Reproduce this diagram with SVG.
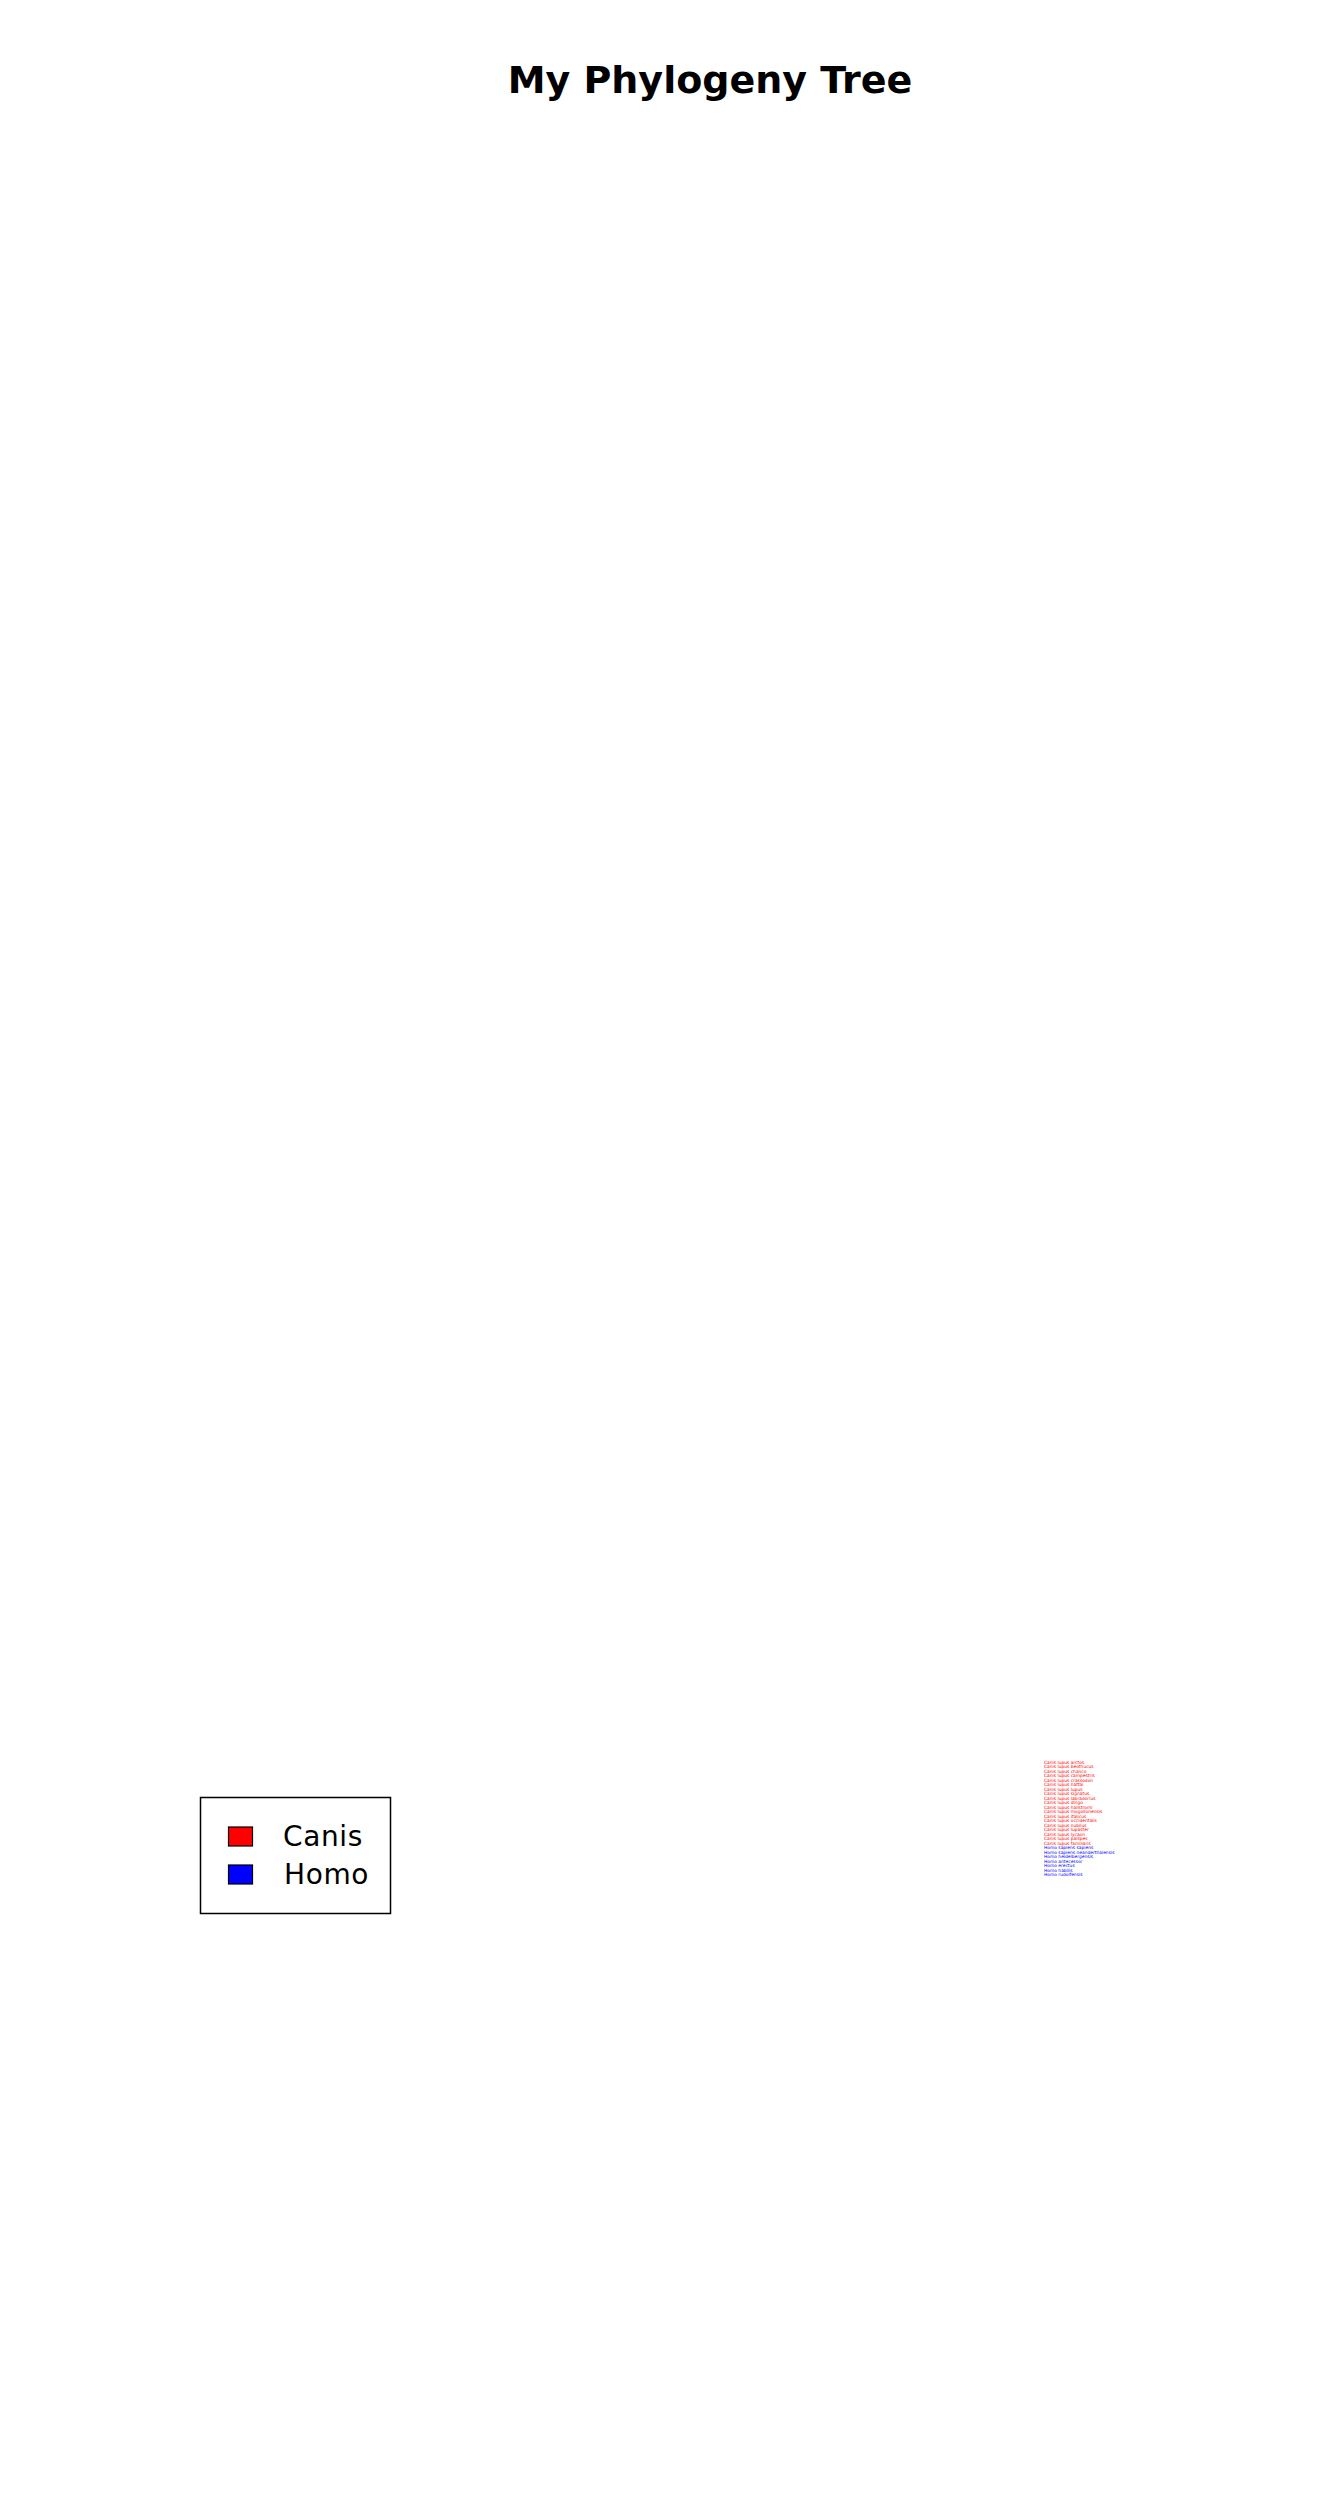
<svg xmlns="http://www.w3.org/2000/svg" width="1344" height="2496" viewBox="0 0 1344 2496">
<style>
.title{font-family:"DejaVu Sans","Liberation Sans",sans-serif;font-weight:bold;font-size:38px;fill:#000}
.leg{font-family:"DejaVu Sans","Liberation Sans",sans-serif;font-size:28px;letter-spacing:0.6px;fill:#000}
.leaf{font-family:"DejaVu Sans","Liberation Sans",sans-serif;font-size:4.4px}
.canis{fill:#ff0000}
.homo{fill:#0000ff}
.patch{stroke:#000;stroke-width:1.2}
</style>
<rect width="1344" height="2496" fill="#fff"/>
<text class="title" x="710" y="92.5" text-anchor="middle">My Phylogeny Tree</text>
<g id="connectors"/>
<g id="leaves">
<g id="canis-leaves" class="leaf canis">
<text x="1044" y="1763.5">Canis lupus arctos</text>
<text x="1044" y="1768">Canis lupus beothucus</text>
<text x="1044" y="1772.5">Canis lupus chanco</text>
<text x="1044" y="1777">Canis lupus campestris</text>
<text x="1044" y="1781.5">Canis lupus crassodon</text>
<text x="1044" y="1786">Canis lupus hattai</text>
<text x="1044" y="1790.5">Canis lupus lupus</text>
<text x="1044" y="1795">Canis lupus signatus</text>
<text x="1044" y="1799.5">Canis lupus labradorius</text>
<text x="1044" y="1804">Canis lupus dingo</text>
<text x="1044" y="1808.5">Canis lupus hallstromi</text>
<text x="1044" y="1813">Canis lupus mogollonensis</text>
<text x="1044" y="1817.5">Canis lupus italicus</text>
<text x="1044" y="1822">Canis lupus occidentalis</text>
<text x="1044" y="1826.5">Canis lupus nubilus</text>
<text x="1044" y="1831">Canis lupus lupaster</text>
<text x="1044" y="1835.5">Canis lupus lycaon</text>
<text x="1044" y="1840">Canis lupus pallipes</text>
<text x="1044" y="1844.5">Canis lupus familiaris</text>
</g>
<g id="homo-leaves" class="leaf homo">
<text x="1044" y="1849">Homo sapiens sapiens</text>
<text x="1044" y="1853.5">Homo sapiens neanderthalensis</text>
<text x="1044" y="1858">Homo heidelbergensis</text>
<text x="1044" y="1862.5">Homo antecessor</text>
<text x="1044" y="1867">Homo erectus</text>
<text x="1044" y="1871.5">Homo habilis</text>
<text x="1044" y="1876">Homo rudolfensis</text>
</g>
</g>
<g id="legend">
<rect x="200.5" y="1797.5" width="190" height="116" fill="#fff" stroke="#000" stroke-width="1.5"/>
<g id="legend-canis">
<rect class="patch" x="228.5" y="1827" width="24" height="19" fill="#ff0000"/>
<text class="leg" x="283" y="1845.5">Canis</text>
</g>
<g id="legend-homo">
<rect class="patch" x="228.5" y="1865" width="24" height="19" fill="#0000ff"/>
<text class="leg" x="284" y="1884">Homo</text>
</g>
</g>
</svg>
